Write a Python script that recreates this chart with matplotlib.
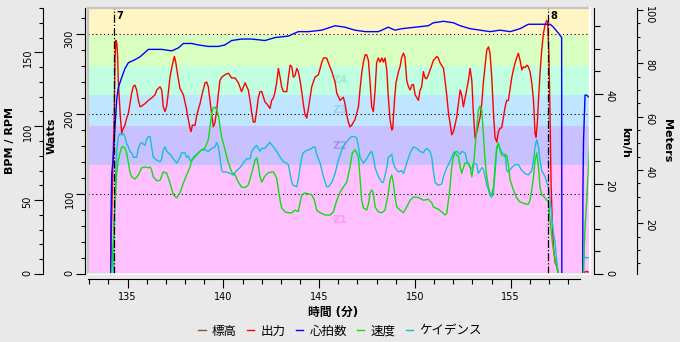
import matplotlib
matplotlib.use('Agg')
import matplotlib.pyplot as plt
from matplotlib.ticker import MultipleLocator, FixedLocator
from matplotlib.lines import Line2D

plt.rcParams['font.family'] = ['DejaVu Sans', 'Noto Sans CJK JP']

# ---- data (minutes, value) ----
hr_pts = [(132.93, 0), (134.12, 0), (134.13, 38), (134.17, 68), (134.25, 79), (134.34, 100), (134.43, 118),
          (134.51, 126), (134.69, 133), (134.86, 139), (135.04, 143), (135.38, 145), (135.65, 147), (135.91, 150),
          (136.08, 152), (136.78, 152), (137.30, 151), (137.65, 153), (137.91, 156), (138.34, 156), (138.69, 155),
          (139.21, 154), (139.74, 154), (140.08, 155), (140.43, 158), (140.95, 159), (141.48, 159), (142.17, 158),
          (142.70, 160), (143.39, 161), (143.91, 164), (144.44, 164), (145.13, 165), (145.83, 168), (146.35, 167),
          (146.87, 165), (147.40, 164), (148.09, 164), (148.61, 167), (148.96, 165), (149.31, 166), (150.01, 167),
          (150.70, 168), (150.96, 170), (151.49, 171), (152.01, 170), (152.36, 168), (152.88, 166), (153.40, 165),
          (153.92, 164), (154.44, 165), (154.97, 164), (155.49, 166), (155.92, 169), (156.53, 169), (157.06, 169),
          (157.23, 167), (157.49, 163), (157.66, 160), (157.67, 0), (158.76, 0), (158.77, 55), (158.80, 89),
          (158.88, 121), (158.97, 121), (159.14, 119)]

power_pts = [(132.93, 0), (134.12, 0), (134.13, 34), (134.17, 71), (134.25, 155), (134.30, 201), (134.34, 270),
             (134.39, 292), (134.44, 288), (134.48, 271), (134.51, 242), (134.57, 217), (134.62, 196), (134.69, 176),
             (134.77, 182), (134.86, 186), (134.95, 195), (135.04, 201), (135.12, 213), (135.21, 226), (135.30, 235),
             (135.38, 236), (135.47, 230), (135.56, 217), (135.65, 209), (135.73, 210), (135.91, 213), (136.08, 217),
             (136.25, 220), (136.43, 224), (136.52, 230), (136.69, 234), (136.78, 230), (136.86, 209), (136.95, 203),
             (137.04, 210), (137.12, 226), (137.21, 246), (137.33, 261), (137.44, 272), (137.51, 265), (137.61, 249),
             (137.73, 232), (137.91, 224), (137.99, 215), (138.08, 205), (138.17, 193), (138.26, 182), (138.31, 178),
             (138.38, 186), (138.52, 186), (138.61, 199), (138.78, 213), (138.90, 226), (139.04, 239), (139.13, 240),
             (139.21, 234), (139.30, 217), (139.39, 201), (139.47, 184), (139.56, 189), (139.65, 205), (139.74, 226),
             (139.82, 242), (139.91, 246), (140.08, 249), (140.26, 251), (140.43, 245), (140.61, 245), (140.78, 239),
             (140.95, 228), (141.13, 239), (141.30, 230), (141.39, 217), (141.48, 201), (141.56, 190), (141.65, 190),
             (141.74, 205), (141.82, 220), (141.91, 228), (142.00, 228), (142.17, 215), (142.26, 213), (142.43, 207),
             (142.52, 217), (142.61, 220), (142.70, 228), (142.78, 239), (142.87, 257), (142.96, 246), (143.04, 234),
             (143.13, 228), (143.31, 228), (143.39, 245), (143.48, 261), (143.57, 259), (143.65, 246), (143.74, 248),
             (143.83, 257), (143.91, 253), (144.00, 242), (144.09, 228), (144.17, 213), (144.26, 199), (144.35, 195),
             (144.44, 207), (144.61, 234), (144.78, 246), (144.96, 249), (145.13, 264), (145.22, 270), (145.39, 270),
             (145.48, 264), (145.66, 253), (145.83, 240), (145.92, 226), (146.09, 217), (146.26, 221), (146.35, 213),
             (146.44, 199), (146.52, 190), (146.61, 184), (146.70, 186), (146.87, 193), (146.96, 201), (147.05, 209),
             (147.13, 230), (147.22, 251), (147.31, 265), (147.40, 274), (147.48, 274), (147.57, 267), (147.66, 239),
             (147.74, 209), (147.83, 203), (147.92, 230), (148.00, 264), (148.09, 270), (148.18, 265), (148.27, 270),
             (148.35, 265), (148.44, 270), (148.53, 255), (148.61, 221), (148.70, 193), (148.79, 180), (148.84, 182),
             (148.93, 217), (149.01, 239), (149.14, 253), (149.22, 259), (149.31, 271), (149.40, 276), (149.48, 271),
             (149.57, 242), (149.66, 234), (149.75, 230), (149.83, 236), (149.92, 237), (150.01, 224), (150.18, 217),
             (150.27, 230), (150.35, 234), (150.44, 253), (150.53, 245), (150.61, 244), (150.70, 249), (150.79, 255),
             (150.88, 261), (150.96, 267), (151.14, 272), (151.22, 270), (151.31, 264), (151.49, 257), (151.57, 242),
             (151.66, 224), (151.75, 201), (151.83, 189), (151.92, 174), (152.01, 178), (152.09, 186), (152.18, 196),
             (152.27, 213), (152.36, 230), (152.44, 224), (152.53, 209), (152.62, 220), (152.70, 230), (152.79, 242),
             (152.88, 257), (152.97, 242), (153.05, 201), (153.14, 170), (153.23, 178), (153.31, 186), (153.40, 196),
             (153.49, 213), (153.57, 239), (153.66, 259), (153.75, 280), (153.84, 284), (153.92, 276), (154.01, 246),
             (154.10, 201), (154.18, 171), (154.27, 165), (154.36, 178), (154.44, 182), (154.53, 183), (154.62, 196),
             (154.71, 209), (154.79, 217), (154.88, 217), (154.97, 232), (155.05, 245), (155.14, 255), (155.23, 264),
             (155.31, 270), (155.40, 276), (155.49, 267), (155.58, 255), (155.66, 259), (155.75, 258), (155.84, 261),
             (155.92, 259), (156.01, 253), (156.10, 239), (156.19, 217), (156.27, 176), (156.32, 171), (156.39, 189),
             (156.45, 217), (156.53, 251), (156.62, 280), (156.71, 301), (156.79, 311), (156.88, 317), (156.93, 315),
             (157.00, 271), (157.06, 189), (157.11, 109), (157.18, 59), (157.23, 34), (157.32, 14), (157.40, 10),
             (157.49, 0), (158.87, 0), (158.88, 3), (159.04, 3), (159.05, 0), (159.14, 0)]

speed_pts = [(132.93, 0), (134.16, 0), (134.25, 7.6), (134.30, 12.7), (134.37, 18), (134.43, 22.4), (134.51, 25.3),
             (134.60, 26.9), (134.69, 28.2), (134.77, 28.3), (134.86, 28), (134.95, 26.9), (135.04, 24.7),
             (135.12, 22.7), (135.21, 21.6), (135.38, 21.1), (135.56, 22), (135.73, 23.6), (135.91, 23.8),
             (136.08, 23.6), (136.17, 23.8), (136.25, 23.1), (136.34, 21.6), (136.52, 20.7), (136.69, 20.8),
             (136.86, 22.7), (137.04, 22.4), (137.21, 20.2), (137.39, 17.6), (137.56, 16.9), (137.73, 18),
             (137.91, 20.2), (138.08, 22), (138.26, 23.8), (138.34, 25.3), (138.52, 26), (138.69, 26.9),
             (138.87, 27.6), (139.04, 28), (139.21, 29.8), (139.30, 32.7), (139.39, 35.8), (139.47, 36.9),
             (139.56, 37.1), (139.65, 36.4), (139.74, 35.3), (139.82, 32.7), (139.91, 30.4), (140.08, 27.6),
             (140.26, 24.7), (140.43, 22.7), (140.61, 22), (140.78, 20.4), (140.95, 19.3), (141.13, 19.2),
             (141.30, 19.8), (141.48, 22.4), (141.65, 25.3), (141.74, 25.8), (141.82, 24.2), (141.91, 21.6),
             (142.00, 20.4), (142.17, 21.8), (142.35, 22.5), (142.61, 22.7), (142.78, 21.3), (142.87, 18.7),
             (142.96, 16.4), (143.04, 14.7), (143.22, 13.8), (143.39, 13.6), (143.57, 13.6), (143.74, 14.2),
             (143.91, 13.9), (144.00, 15.8), (144.09, 17.6), (144.26, 18), (144.44, 17.8), (144.61, 17.6),
             (144.75, 16.4), (144.87, 14.2), (145.05, 13.6), (145.31, 13.1), (145.57, 13.1), (145.74, 13.8),
             (145.92, 16.4), (146.09, 18.2), (146.26, 19.3), (146.44, 20.4), (146.61, 23.8), (146.73, 26.9),
             (146.87, 27.6), (146.96, 26.9), (147.05, 26), (147.13, 21.6), (147.22, 16.4), (147.31, 14.7),
             (147.48, 14.2), (147.57, 15.5), (147.66, 18), (147.74, 18.7), (147.83, 18), (147.92, 14.9),
             (148.09, 13.8), (148.27, 13.6), (148.44, 14.2), (148.61, 18), (148.70, 20.9), (148.79, 22),
             (148.87, 20.4), (148.96, 17.1), (149.05, 14.9), (149.22, 14.2), (149.40, 13.6), (149.57, 14.9),
             (149.75, 16.4), (149.92, 17.1), (150.18, 17), (150.44, 16.4), (150.70, 16.6), (150.88, 15.8),
             (150.96, 14.9), (151.22, 14.4), (151.40, 13.8), (151.57, 13.1), (151.66, 13.5), (151.75, 16.4),
             (151.83, 19.3), (151.92, 23.8), (152.01, 26), (152.09, 27.1), (152.18, 26.4), (152.27, 26.2),
             (152.36, 23.8), (152.44, 22.4), (152.53, 23.6), (152.62, 24.7), (152.79, 24.6), (152.88, 23.8),
             (152.97, 21.6), (153.05, 23.8), (153.14, 28.2), (153.23, 32.7), (153.31, 36.4), (153.40, 37.3),
             (153.49, 36.4), (153.57, 31.3), (153.66, 25.3), (153.75, 21.6), (153.84, 19.3), (153.92, 18),
             (154.01, 17.6), (154.10, 19.3), (154.18, 23.8), (154.27, 28.2), (154.36, 29.1), (154.44, 27.6),
             (154.53, 26.4), (154.71, 26.2), (154.79, 26.4), (154.88, 24.2), (154.97, 20.9), (155.14, 18.7),
             (155.31, 16.9), (155.49, 16), (155.75, 15.6), (155.92, 15.5), (156.01, 16.4), (156.10, 18.7),
             (156.19, 21.6), (156.27, 25.3), (156.36, 26.9), (156.45, 23.8), (156.53, 19.3), (156.62, 17.6),
             (156.71, 17.3), (156.79, 16.9), (156.88, 16.4), (156.97, 16.2), (157.02, 13.6), (157.09, 10.4),
             (157.16, 7.6), (157.23, 5.3), (157.32, 3.1), (157.40, 1.6), (157.49, 0), (158.80, 0), (158.83, 4.7),
             (158.88, 10.4), (158.97, 16.4), (159.06, 23.8), (159.14, 30.4)]

cad_pts = [(132.93, 0), (134.25, 0), (134.30, 27.7), (134.34, 50), (134.39, 72), (134.44, 84), (134.51, 93),
           (134.60, 95), (134.69, 94), (134.77, 95), (134.86, 93), (134.95, 88), (135.04, 86), (135.12, 83),
           (135.21, 82), (135.30, 79), (135.47, 79), (135.56, 85), (135.65, 88), (135.73, 89), (135.82, 88),
           (135.91, 87), (135.99, 91), (136.08, 93), (136.17, 93), (136.25, 86), (136.34, 79), (136.52, 77),
           (136.69, 76), (136.78, 78), (136.86, 84), (136.95, 86), (137.04, 83), (137.21, 81), (137.39, 78),
           (137.56, 75), (137.73, 79), (137.82, 82), (137.99, 82), (138.08, 79), (138.17, 80), (138.26, 77),
           (138.34, 76), (138.43, 79), (138.52, 80), (138.69, 82), (138.87, 84), (139.04, 84), (139.21, 83),
           (139.39, 85), (139.56, 86), (139.65, 89), (139.74, 86), (139.82, 79), (139.91, 70), (140.00, 69),
           (140.17, 69), (140.34, 68), (140.52, 67), (140.69, 70), (140.87, 72), (141.04, 75), (141.21, 78),
           (141.39, 78), (141.48, 83), (141.65, 86), (141.74, 87), (141.82, 85), (141.91, 83), (142.00, 85),
           (142.17, 85), (142.35, 88), (142.43, 89), (142.61, 86), (142.78, 83), (142.96, 79), (143.13, 76),
           (143.31, 75), (143.39, 74), (143.48, 68), (143.57, 62), (143.65, 60), (143.83, 59), (143.91, 64),
           (144.00, 72), (144.09, 79), (144.17, 82), (144.26, 83), (144.44, 84), (144.61, 85), (144.70, 86),
           (144.78, 86), (144.87, 81), (145.05, 75), (145.22, 66), (145.39, 59), (145.48, 59), (145.66, 62),
           (145.83, 68), (146.00, 77), (146.18, 84), (146.35, 88), (146.52, 91), (146.70, 93), (146.87, 93),
           (146.96, 92), (147.05, 86), (147.13, 79), (147.22, 77), (147.31, 75), (147.48, 78), (147.66, 82),
           (147.74, 83), (147.83, 79), (147.92, 72), (148.09, 66), (148.27, 62), (148.35, 62), (148.53, 72),
           (148.61, 79), (148.79, 81), (148.87, 75), (148.96, 72), (149.14, 69), (149.31, 70), (149.40, 68),
           (149.57, 75), (149.75, 82), (149.92, 86), (150.09, 85), (150.27, 83), (150.44, 82), (150.53, 84),
           (150.61, 85), (150.79, 83), (150.88, 79), (150.96, 70), (151.05, 62), (151.22, 60), (151.40, 61),
           (151.49, 66), (151.66, 72), (151.83, 76), (151.92, 79), (152.01, 82), (152.18, 83), (152.36, 81),
           (152.44, 83), (152.62, 82), (152.70, 77), (152.88, 72), (152.97, 71), (153.05, 75), (153.23, 74),
           (153.31, 68), (153.49, 72), (153.57, 71), (153.66, 66), (153.75, 60), (153.84, 57), (153.92, 53),
           (154.01, 52), (154.10, 55), (154.18, 68), (154.27, 84), (154.36, 88), (154.44, 85), (154.53, 82),
           (154.71, 81), (154.79, 70), (154.88, 69), (155.05, 72), (155.23, 74), (155.40, 74), (155.58, 70),
           (155.75, 68), (155.92, 67), (156.10, 70), (156.19, 77), (156.27, 86), (156.36, 91), (156.45, 86),
           (156.53, 77), (156.62, 70), (156.79, 66), (156.88, 62), (156.97, 59), (157.06, 50), (157.14, 39),
           (157.23, 28), (157.32, 21), (157.40, 9.5), (157.49, 0), (158.80, 0), (158.81, 14), (158.83, 11),
           (159.14, 11)]

elev_pts = [(132.93, 1.1), (159.14, 1.1)]

zone_names = ['Z1', 'Z2', 'Z3', 'Z4', 'Z5', 'Z6']
zone_lo = [0, 136, 185, 224, 260, 299]
zone_hi = [136, 185, 224, 260, 299, 340]
zone_colors = ['#ffc0ff', '#c8c0ff', '#c0e6ff', '#c0ffe0', '#d8ffc0', '#fff5c4']
zone_text_colors = ['#ff99f0', '#9c96ee', '#99d0ff', '#99efcc', None, None]

laps = [134.29, 156.97]
lap_names = ['7', '8']

legend_names = ['標高', '出力', '心拍数', '速度', 'ケイデンス']
c_elev, c_pow, c_hr, c_spd, c_cad = '#8b5a2b', '#ff0000', '#0000ff', '#11dd11', '#14c0d8'

xmin, xmax = 132.93, 159.14
PX = 0.72  # points per pixel at dpi 100

fig = plt.figure(figsize=(6.8, 3.42), dpi=100, facecolor='#e9e9e9')
ax = fig.add_axes([88 / 680, 68 / 342, 502 / 680, 266 / 342])
ax.set_xlim(xmin, xmax)
ax.set_ylim(0, 332.5)

# zones
for lo, hi, c in zip(zone_lo, zone_hi, zone_colors):
    ax.axhspan(lo, hi, color=c, lw=0, zorder=0)
for name, lo, hi, tc in zip(zone_names, zone_lo, zone_hi, zone_text_colors):
    if tc:
        ax.text(146.1, (lo + hi) / 2, name, color=tc, fontsize=7.5, fontweight='bold',
                ha='center', va='center', zorder=1)
for v in [100, 200, 300]:
    ax.axhline(v, color='black', ls=(0, (1, 2.5)), lw=0.8, zorder=1)

t, v = zip(*power_pts)
ax.plot(t, v, color=c_pow, lw=1.0, zorder=3)

ax_bpm = ax.twinx()
ax_bpm.set_ylim(0, 180)
t, v = zip(*hr_pts)
ax_bpm.plot(t, v, color=c_hr, lw=1.0)
t, v = zip(*cad_pts)
ax_bpm.plot(t, v, color=c_cad, lw=1.0)

ax_spd = ax.twinx()
ax_spd.set_ylim(0, 59.1)
t, v = zip(*speed_pts)
ax_spd.plot(t, v, color=c_spd, lw=1.0)

ax_m = ax.twinx()
ax_m.set_ylim(1.0, 100.7)
t, v = zip(*elev_pts)
ax_m.plot(t, v, color=c_elev, lw=1.0)

for lt, ln in zip(laps, lap_names):
    ax_m.axvline(lt, color='black', ls='-.', lw=0.9)
    ax_m.text(lt + 0.12, 0.97, ln, transform=ax_m.get_xaxis_transform(), fontsize=7,
              fontweight='bold', ha='left', va='center')

# spines / ticks
for a in [ax, ax_bpm, ax_spd, ax_m]:
    for s in a.spines.values():
        s.set_visible(False)

ax.spines['left'].set_visible(True)
ax.spines['left'].set_position(('outward', 3 * PX))
ax.spines['bottom'].set_visible(True)
ax.spines['bottom'].set_position(('outward', 5 * PX))
ax.spines['bottom'].set_bounds(xmin, 158.62)
ax.yaxis.set_major_locator(MultipleLocator(100))
ax.yaxis.set_minor_locator(MultipleLocator(20))
ax.xaxis.set_major_locator(MultipleLocator(5))
ax.xaxis.set_minor_locator(FixedLocator(list(range(133, 159))))
ax.tick_params(axis='y', which='major', length=9 * PX, width=0.8, labelsize=7, labelrotation=90, pad=1)
ax.tick_params(axis='y', which='minor', length=4.5 * PX, width=0.8)
ax.tick_params(axis='x', which='major', length=9 * PX, width=0.8, labelsize=7, pad=3)
ax.tick_params(axis='x', which='minor', length=4.5 * PX, width=0.8)

ax_bpm.yaxis.set_ticks_position('left')
ax_bpm.spines['left'].set_visible(True)
ax_bpm.spines['left'].set_position(('outward', 45 * PX))
ax_bpm.yaxis.set_major_locator(MultipleLocator(50))
ax_bpm.yaxis.set_minor_locator(MultipleLocator(10))
ax_bpm.tick_params(axis='y', which='major', length=9 * PX, width=0.8, labelsize=7, labelrotation=90, pad=1)
ax_bpm.tick_params(axis='y', which='minor', length=4.5 * PX, width=0.8)

ax_spd.spines['right'].set_visible(True)
ax_spd.spines['right'].set_position(('outward', 4 * PX))
ax_spd.yaxis.set_major_locator(MultipleLocator(20))
ax_spd.yaxis.set_minor_locator(MultipleLocator(5))
ax_spd.tick_params(axis='y', which='major', length=9 * PX, width=0.8, labelsize=7, labelrotation=-90, pad=1)
ax_spd.tick_params(axis='y', which='minor', length=5.5 * PX, width=0.8)

ax_m.spines['right'].set_visible(True)
ax_m.spines['right'].set_position(('outward', 47 * PX))
ax_m.yaxis.set_major_locator(MultipleLocator(20))
ax_m.yaxis.set_minor_locator(MultipleLocator(5))
ax_m.tick_params(axis='y', which='major', length=6 * PX, width=0.8, labelsize=7, labelrotation=-90, pad=1)
ax_m.tick_params(axis='y', which='minor', length=3 * PX, width=0.8)

# sunken frame round the plot
ax_m.plot([0, 1], [1, 1], transform=ax_m.transAxes, color='#c4c4c4', lw=1.6, clip_on=False)
ax_m.plot([0, 0], [0, 1], transform=ax_m.transAxes, color='#c4c4c4', lw=1.6, clip_on=False)
ax_m.plot([1, 1], [0, 1], transform=ax_m.transAxes, color='white', lw=1.6, clip_on=False)
ax_m.plot([0, 1], [0, 0], transform=ax_m.transAxes, color='white', lw=1.2, clip_on=False)

# axis titles
fig.text(10 / 680, 1 - 141 / 342, 'BPM / RPM', rotation=90, fontsize=8, fontweight='bold', ha='center', va='center')
fig.text(52 / 680, 1 - 136 / 342, 'Watts', rotation=90, fontsize=8, fontweight='bold', ha='center', va='center')
fig.text(625 / 680, 1 - 142 / 342, 'km/h', rotation=270, fontsize=8, fontweight='bold', ha='center', va='center')
fig.text(667 / 680, 1 - 141 / 342, 'Meters', rotation=270, fontsize=8, fontweight='bold', ha='center', va='center')
fig.text(333 / 680, 1 - 312 / 342, '時間 (分)', fontsize=8.5, fontweight='bold', ha='center', va='center')

handles = [Line2D([], [], color=c, lw=1.0) for c in [c_elev, c_pow, c_hr, c_spd, c_cad]]
fig.legend(handles, legend_names, loc='center', bbox_to_anchor=(0.5, 1 - 331 / 342), ncol=5, frameon=False,
           fontsize=9, handlelength=0.6, handletextpad=0.5, columnspacing=0.8)

fig.savefig('out.png', dpi=100, facecolor=fig.get_facecolor())
